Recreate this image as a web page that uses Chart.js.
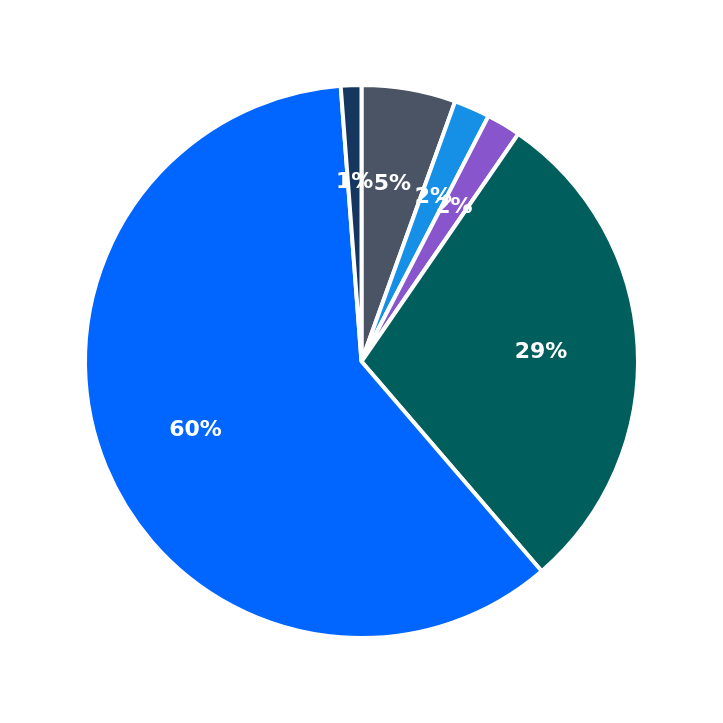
<!DOCTYPE html>
<html>
<head>
<meta charset="utf-8">
<script src="https://cdn.jsdelivr.net/npm/chart.js@4"></script>
<style>
  html, body { margin: 0; padding: 0; background: #fff; }
  #wrap { width: 723px; height: 723px; }
</style>
</head>
<body>
<div id="wrap"><canvas id="pie"></canvas></div>
<script>
const categories = ['A', 'B', 'C', 'D', 'E', 'F'];
const shares = [5.5, 2.1, 2.0, 29.1, 60.1, 1.2];
const percentLabels = ['5%', '2%', '2%', '29%', '60%', '1%'];
const colors = ['#4a5464', '#1590e6', '#8855cc', '#005e5c', '#0066ff', '#15365e'];

// draws the % text inside each slice
const sliceLabels = {
    id: 'sliceLabels',
    afterDatasetsDraw(chart) {
        const ctx = chart.ctx;
        const meta = chart.getDatasetMeta(0);
        ctx.save();
        ctx.fillStyle = '#ffffff';
        ctx.font = 'bold 22px "DejaVu Sans"';
        ctx.textAlign = 'center';
        ctx.textBaseline = 'middle';
        meta.data.forEach((arc, i) => {
            const mid = (arc.startAngle + arc.endAngle) / 2;
            const r = arc.outerRadius * 0.65;
            ctx.fillText(percentLabels[i], arc.x + Math.cos(mid) * r, arc.y + Math.sin(mid) * r);
        });
        ctx.restore();
    }
};

new Chart(document.getElementById('pie').getContext('2d'), {
    type: 'pie',
    data: {
        labels: categories,
        datasets: [{
            data: shares,
            backgroundColor: colors,
            borderColor: '#ffffff',
            borderWidth: 4,
        }],
    },
    options: {
        responsive: true,
        maintainAspectRatio: false,
        animation: false,
        layout: { padding: 83 },
        plugins: {
            legend: { display: false },
            tooltip: { enabled: false },
        },
    },
    plugins: [sliceLabels],
});
</script>
</body>
</html>
